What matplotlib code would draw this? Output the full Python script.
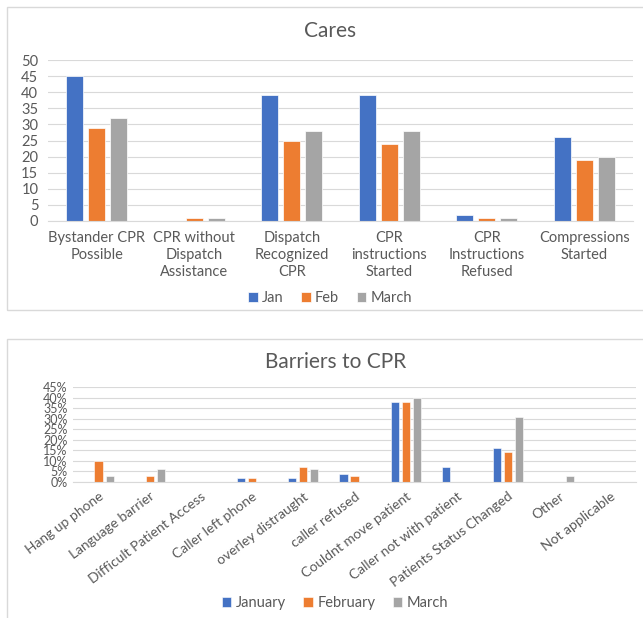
# Two Excel-style grouped bar charts: Cares and Barriers to CPR

import numpy as np
import matplotlib.pyplot as plt
from matplotlib.patches import Rectangle
from matplotlib.ticker import PercentFormatter

plt.rcParams['font.family'] = ['Lato', 'DejaVu Sans']

cares_cats = ["Bystander CPR\nPossible", "CPR without\nDispatch\nAssistance",
              "Dispatch\nRecognized\nCPR", "CPR\ninstructions\nStarted",
              "CPR\nInstructions\nRefused", "Compressions\nStarted"]
cares_jan = [45, 0, 39, 39, 2, 26]
cares_feb = [29, 1, 25, 24, 1, 19]
cares_mar = [32, 1, 28, 28, 1, 20]

barrier_cats = ["Hang up phone", "Language barrier", "Difficult Patient Access",
                "Caller left phone", "overley distraught", "caller refused",
                "Couldnt move patient", "Caller not with patient",
                "Patients Status Changed", "Other", "Not applicable"]
barrier_jan = [0, 0, 0, 0.02, 0.02, 0.04, 0.38, 0.07, 0.16, 0, 0]
barrier_feb = [0.10, 0.03, 0, 0.02, 0.07, 0.03, 0.38, 0, 0.14, 0, 0]
barrier_mar = [0.03, 0.06, 0, 0, 0.06, 0, 0.40, 0, 0.31, 0.03, 0]

BLUE, ORANGE, GRAY = "#4472C4", "#ED7D31", "#A5A5A5"
TXT = "#595959"
W, H = 643, 618

fig = plt.figure(figsize=(W / 100, H / 100), dpi=100)

# panel borders
for (x0, y0, x1, y1) in [(7, 7, 650, 310), (7, 339, 650, 625)]:
    fig.patches.append(Rectangle((x0 / W, 1 - y1 / H), (x1 - x0) / W, (y1 - y0) / H,
                                 transform=fig.transFigure, fill=False,
                                 edgecolor="#D9D9D9", linewidth=1))


def style(ax):
    for s in ax.spines.values():
        s.set_visible(False)
    ax.spines['bottom'].set_visible(True)
    ax.spines['bottom'].set_color("#D9D9D9")
    ax.yaxis.grid(True, color="#D9D9D9", linewidth=0.8)
    ax.set_axisbelow(True)
    ax.tick_params(length=0, colors=TXT)


# ---- Cares ----
ax1 = fig.add_axes([48 / W, 1 - 221 / H, (633 - 48) / W, (221 - 60) / H])
x = np.arange(len(cares_cats))
bw = 0.175
step = 0.225
ax1.bar(x - step, cares_jan, bw, color=BLUE, label="Jan", edgecolor="white", linewidth=0.5)
ax1.bar(x, cares_feb, bw, color=ORANGE, label="Feb", edgecolor="white", linewidth=0.5)
ax1.bar(x + step, cares_mar, bw, color=GRAY, label="March", edgecolor="white", linewidth=0.5)
ax1.set_xlim(-0.5, len(cares_cats) - 0.5)
ax1.set_ylim(0, 50)
ax1.set_yticks(range(0, 51, 5))
ax1.set_xticks(x)
ax1.set_xticklabels(cares_cats, fontsize=10.5, linespacing=1.3)
ax1.tick_params(axis='x', pad=7)
ax1.tick_params(axis='y', labelsize=10.5, pad=7)
style(ax1)
fig.text(330 / W, 1 - 31 / H, "Cares", ha="center", va="center", fontsize=15, color=TXT)
fig.legend(*ax1.get_legend_handles_labels(), loc="center", bbox_to_anchor=(330 / W, 1 - 298 / H),
           ncol=3, frameon=False, fontsize=10.5, handlelength=0.65, handleheight=0.65,
           handletextpad=0.3, columnspacing=1.2, labelcolor=TXT)

# ---- Barriers to CPR ----
ax2 = fig.add_axes([73 / W, 1 - 482 / H, (636 - 73) / W, (482 - 387) / H])
x2 = np.arange(len(barrier_cats))
bw2 = 0.16
step2 = 0.215
ax2.bar(x2 - step2, barrier_jan, bw2, color=BLUE, label="January", edgecolor="white", linewidth=0.4)
ax2.bar(x2, barrier_feb, bw2, color=ORANGE, label="February", edgecolor="white", linewidth=0.4)
ax2.bar(x2 + step2, barrier_mar, bw2, color=GRAY, label="March", edgecolor="white", linewidth=0.4)
ax2.set_xlim(-0.5, len(barrier_cats) - 0.5)
ax2.set_ylim(0, 0.45)
ax2.set_yticks(np.arange(0, 0.46, 0.05))
ax2.yaxis.set_major_formatter(PercentFormatter(1.0, decimals=0))
ax2.set_xticks(x2)
ax2.set_xticklabels(barrier_cats, rotation=37, ha="right", va="top",
                    rotation_mode="anchor", fontsize=10)
ax2.tick_params(axis='y', labelsize=9, pad=4)
ax2.tick_params(axis='x', pad=6)
style(ax2)
fig.text(336 / W, 1 - 362 / H, "Barriers to CPR", ha="center", va="center", fontsize=15, color=TXT)
fig.legend(*ax2.get_legend_handles_labels(), loc="center", bbox_to_anchor=(335 / W, 1 - 603 / H),
           ncol=3, frameon=False, fontsize=10.5, handlelength=0.65, handleheight=0.65,
           handletextpad=0.3, columnspacing=1.2, labelcolor=TXT)

fig.savefig("out.png", dpi=100)
